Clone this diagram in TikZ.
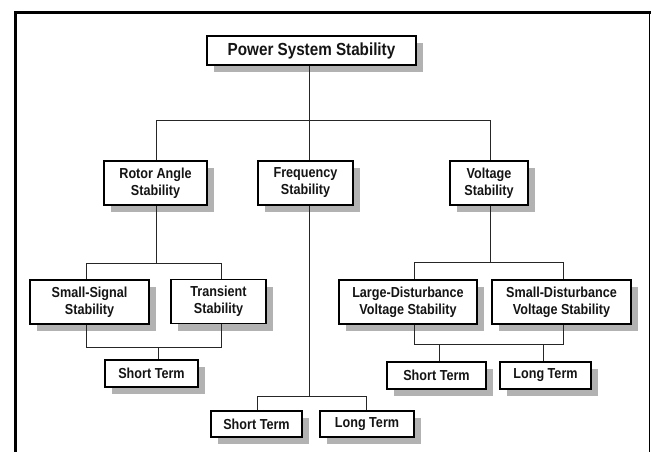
\documentclass[tikz,border=0pt]{standalone}
\usepackage{fontspec}
\setmainfont{Liberation Sans}[FakeStretch=0.87]
\usetikzlibrary{shadows}
\tikzset{
  box/.style={draw=black, line width=1.2pt, fill=white, align=center, inner sep=0pt,
    text=black!92, font=\fontsize{14.5}{17}\selectfont\bfseries,
    drop shadow={shadow xshift=7pt, shadow yshift=-7pt, fill=black!30, opacity=1}},
  conn/.style={draw=black!85, line width=1pt},
  frame/.style={draw=black, line cap=rect}
}
\begin{document}
\begin{tikzpicture}[x=1pt,y=-1pt]
\useasboundingbox (0,0) rectangle (651,451);
% frame
\draw[frame, line width=3pt] (15.5,451) -- (15.5,12.5) -- (651,12.5);
\draw[frame, line width=1.5pt] (649.5,12.5) -- (649.5,451);
% boxes
\node[box, minimum width=209pt, minimum height=29pt, font=\fontsize{17.5}{19}\selectfont\bfseries] (top) at (311.5,50.5) {Power System Stability};
\node[box, minimum width=103pt, minimum height=44pt] (rotor) at (155.5,183) {Rotor Angle\\Stability};
\node[box, minimum width=95pt, minimum height=44pt] (freq) at (305.5,183) {Frequency\\Stability};
\node[box, minimum width=78pt, minimum height=44pt] (volt) at (489,183) {Voltage\\Stability};
\node[box, minimum width=119pt, minimum height=44pt] (ss) at (89.5,302) {Small-Signal\\Stability};
\node[box, minimum width=95pt, minimum height=44pt] (tr) at (218.5,301.5) {Transient\\Stability};
\node[box, minimum width=138pt, minimum height=44pt] (ld) at (408,302) {Large-Disturbance\\Voltage Stability};
\node[box, minimum width=139pt, minimum height=44pt] (sd) at (561.5,302) {Small-Disturbance\\Voltage Stability};
\node[box, minimum width=93pt, minimum height=27pt] (str) at (151.5,373.5) {Short Term};
\node[box, minimum width=99pt, minimum height=27pt] (stv) at (436.5,375.5) {Short Term};
\node[box, minimum width=91pt, minimum height=27pt] (ltv) at (545.5,375.5) {Long Term};
\node[box, minimum width=91pt, minimum height=26pt] (stf) at (256.5,424) {Short Term};
\node[box, minimum width=94pt, minimum height=26pt] (ltf) at (367,424) {Long Term};
% connector coordinates
\coordinate (b1) at (309,120);
\coordinate (b1l) at (156.5,120);
\coordinate (b1r) at (490,120);
\coordinate (r1) at (86,263);
\coordinate (r2) at (221,263);
\coordinate (rm) at (156.5,263);
\coordinate (r3) at (86,347);
\coordinate (r4) at (221,347);
\coordinate (r5) at (158,347);
\coordinate (v1) at (414,262);
\coordinate (v2) at (563,262);
\coordinate (vm) at (490,262);
\coordinate (v3) at (414,344);
\coordinate (v4) at (563,344);
\coordinate (v5) at (439,344);
\coordinate (v6) at (543,344);
\coordinate (f1) at (257,396);
\coordinate (f2) at (366,396);
\coordinate (fm) at (309,396);
% top level
\draw[conn] (top.south -| b1) -- (b1);
\draw[conn] (rotor.north -| b1l) -- (b1l) -- (b1r) -- (volt.north -| b1r);
\draw[conn] (b1) -- (freq.north -| b1);
% rotor angle branch
\draw[conn] (rotor.south -| rm) -- (rm);
\draw[conn] (ss.north -| r1) -- (r1) -- (r2) -- (tr.north -| r2);
\draw[conn] (ss.south -| r3) -- (r3) -- (r4) -- (tr.south -| r4);
\draw[conn] (r5) -- (str.north -| r5);
% voltage branch
\draw[conn] (volt.south -| vm) -- (vm);
\draw[conn] (ld.north -| v1) -- (v1) -- (v2) -- (sd.north -| v2);
\draw[conn] (ld.south -| v3) -- (v3) -- (v4) -- (sd.south -| v4);
\draw[conn] (v5) -- (stv.north -| v5);
\draw[conn] (v6) -- (ltv.north -| v6);
% frequency branch
\draw[conn] (freq.south -| fm) -- (fm);
\draw[conn] (stf.north -| f1) -- (f1) -- (f2) -- (ltf.north -| f2);
\end{tikzpicture}
\end{document}
